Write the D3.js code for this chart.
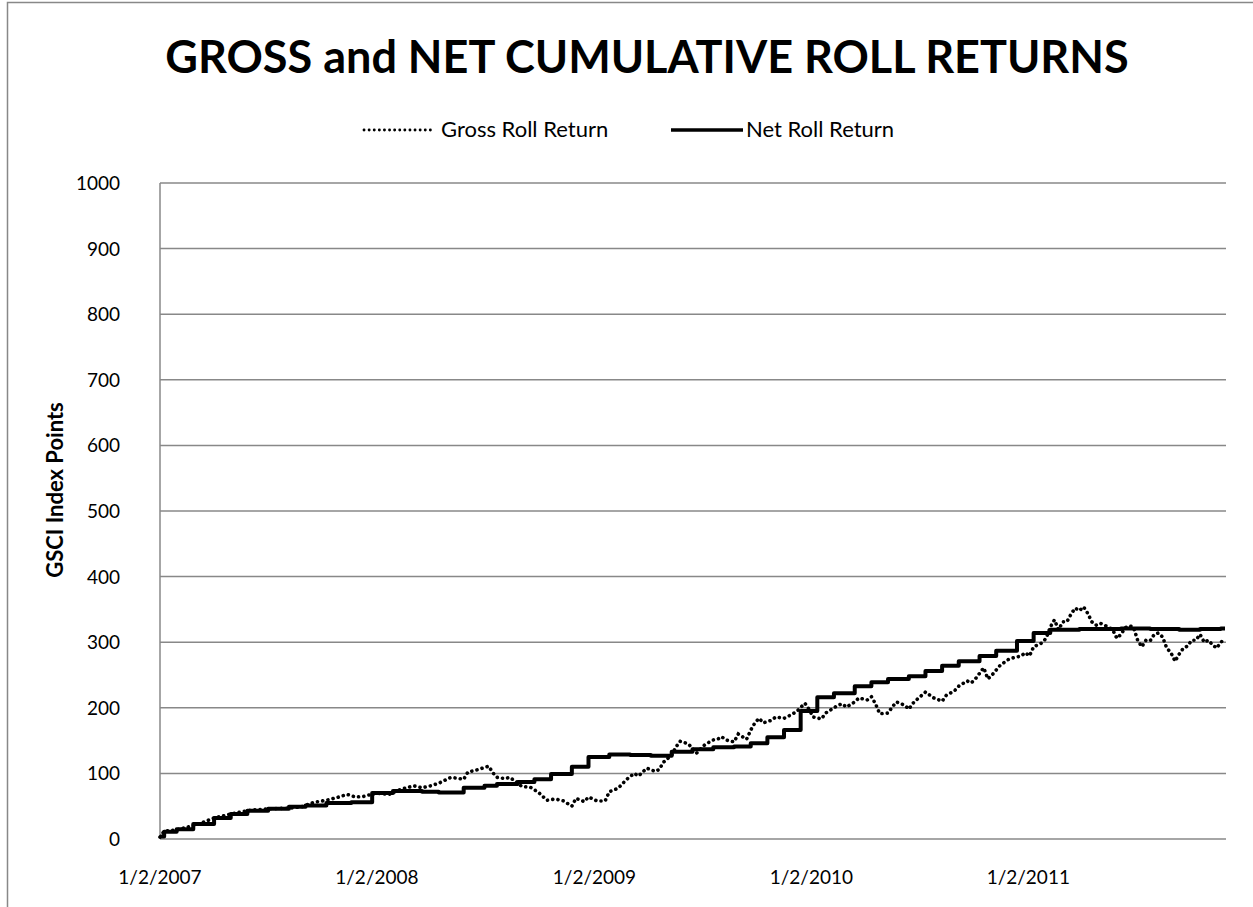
<!DOCTYPE html>
<html>
<head>
<meta charset="utf-8">
<script src="https://cdn.jsdelivr.net/npm/d3@7"></script>
<style>
  body { margin: 0; background: #fff; }
  text { font-family: Lato, "Open Sans", sans-serif; fill: #000; }
</style>
</head>
<body>
<svg id="chart" width="1253" height="907"></svg>
<script>
// weekly observations, counted in weeks from 1/2/2007
const grossWeeks = [0, 1, 4, 9, 13, 17, 20, 22, 26, 31, 34, 37, 39, 40, 43, 45, 47, 49, 52, 55,
  58, 61, 63, 65, 67, 70, 73, 74, 76, 79, 80, 81, 83, 84, 85, 87, 89, 91, 93, 95,
  97, 99, 100, 102, 103, 105, 107, 108, 110, 111, 112, 114, 115, 117, 119, 120, 121, 123, 124, 125,
  127, 129, 131, 133, 134, 135, 136, 138, 139, 141, 142, 143, 144, 145, 147, 148, 150, 151, 153, 155,
  156, 157, 159, 160, 162, 163, 164, 165, 167, 168, 170, 171, 172, 173, 175, 176, 177, 179, 180, 181,
  182, 184, 186, 188, 189, 191, 192, 194, 195, 196, 198, 199, 200, 202, 204, 205, 207, 208, 209, 210,
  212, 213, 214, 215, 216, 217, 218, 219, 220, 221, 222, 223, 224, 225, 226, 227, 228, 229, 230, 231,
  232, 233, 234, 235, 236, 237, 238, 239, 240, 241, 242, 243, 244, 245, 246, 247, 248, 249, 250, 251,
  252, 253, 254, 255, 256];
const grossValues = [3, 12, 14, 22, 32, 38, 42, 44, 46, 47, 49, 56, 58, 59, 64, 68, 64, 65, 70, 68,
  76, 81, 78, 81, 85, 94, 91, 102, 105, 111, 101, 94, 92, 94, 90, 80, 79, 71, 59, 61,
  58, 50, 62, 57, 64, 58, 58, 72, 77, 83, 90, 100, 96, 108, 103, 106, 117, 128, 140, 149,
  145, 131, 144, 151, 152, 156, 151, 148, 160, 152, 166, 177, 184, 177, 181, 186, 184, 187, 194, 207,
  198, 186, 183, 192, 200, 204, 206, 201, 209, 215, 212, 217, 206, 191, 192, 201, 209, 204, 198, 207,
  213, 224, 215, 210, 219, 226, 233, 241, 238, 244, 261, 244, 250, 265, 274, 276, 279, 284, 279, 293,
  299, 306, 323, 334, 319, 331, 331, 343, 352, 348, 354, 344, 331, 326, 329, 326, 323, 319, 306, 312,
  322, 325, 323, 303, 293, 303, 302, 312, 314, 308, 291, 284, 271, 282, 291, 294, 303, 303, 312, 300,
  303, 296, 291, 300, 305];

// net series moves in steps at each monthly roll
const netWeeks = [0, 1, 4, 8, 13, 17, 21, 26, 31, 35, 40, 46, 51, 56, 63, 67, 73, 78, 81, 86,
  90, 94, 99, 103, 108, 113, 118, 123, 128, 133, 138, 142, 146, 150, 154, 158, 162, 167, 171, 175,
  180, 184, 188, 192, 197, 201, 206, 210, 214, 221, 231, 238, 245, 250, 255, 256];
const netValues = [4, 11, 15, 23, 32, 38, 43, 46, 49, 51, 55, 56, 70, 73, 72, 71, 78, 81, 84, 87,
  91, 99, 110, 125, 129, 128, 127, 133, 137, 140, 141, 146, 155, 166, 195, 216, 222, 233, 239, 244,
  248, 256, 264, 271, 279, 287, 302, 314, 319, 320, 321, 320, 319, 320, 321, 321];

const yTicks = [0, 100, 200, 300, 400, 500, 600, 700, 800, 900, 1000];
const xTickLabels = ["1/2/2007", "1/2/2008", "1/2/2009", "1/2/2010", "1/2/2011"];

const start = new Date(2007, 0, 2);
const weekDate = w => d3.timeDay.offset(start, 7 * w);
const parseLabel = d3.timeParse("%m/%d/%Y");

const gross = grossWeeks.map((w, i) => ({date: weekDate(w), value: grossValues[i]}));
const net = netWeeks.map((w, i) => ({date: weekDate(w), value: netValues[i]}));

const svg = d3.select("#chart");

svg.append("rect")
  .attr("x", 7.5).attr("y", 2.5)
  .attr("width", 1300).attr("height", 1000)
  .attr("fill", "none").attr("stroke", "#888").attr("stroke-width", 1.5);

const x = d3.scaleTime()
  .domain([start, weekDate(256)])
  .range([160, 1225]);
const y = d3.scaleLinear()
  .domain([0, 1000])
  .range([839, 183]);

// gridlines
svg.append("g")
  .selectAll("line")
  .data(yTicks)
  .enter()
  .append("line")
  .attr("x1", 160).attr("x2", 1226)
  .attr("y1", d => y(d)).attr("y2", d => y(d))
  .attr("stroke", "#888").attr("stroke-width", 1.5);

svg.append("line")
  .attr("x1", 160).attr("x2", 160)
  .attr("y1", y(1000)).attr("y2", y(0))
  .attr("stroke", "#888").attr("stroke-width", 1.5);

// y labels
svg.append("g")
  .selectAll("text")
  .data(yTicks)
  .enter()
  .append("text")
  .attr("x", 120)
  .attr("y", d => y(d) + 7)
  .attr("text-anchor", "end")
  .attr("font-size", "19px")
  .text(d => d);

// x labels
svg.append("g")
  .selectAll("text")
  .data(xTickLabels)
  .enter()
  .append("text")
  .attr("x", d => x(parseLabel(d)))
  .attr("y", 884)
  .attr("text-anchor", "middle")
  .attr("font-size", "19px")
  .text(d => d);

svg.append("text")
  .attr("transform", "translate(63,490) rotate(-90)")
  .attr("text-anchor", "middle")
  .attr("font-size", "22px")
  .attr("font-weight", "bold")
  .text("GSCI Index Points");

svg.append("text")
  .attr("x", 647).attr("y", 73)
  .attr("text-anchor", "middle")
  .attr("font-size", "45px")
  .attr("font-weight", "bold")
  .text("GROSS and NET CUMULATIVE ROLL RETURNS");

const line = d3.line()
  .x(d => x(d.date))
  .y(d => y(d.value));

svg.append("path")
  .datum(net)
  .attr("fill", "none")
  .attr("stroke", "#000")
  .attr("stroke-width", 4)
  .attr("stroke-linejoin", "round")
  .attr("d", line.curve(d3.curveStepAfter));

svg.append("path")
  .datum(gross)
  .attr("fill", "none")
  .attr("stroke", "#000")
  .attr("stroke-width", 3.6)
  .attr("stroke-linecap", "round")
  .attr("stroke-dasharray", "0.1 5.2")
  .attr("d", d3.line().x(d => x(d.date)).y(d => y(d.value)));

// legend
const legend = svg.append("g");
legend.append("line")
  .attr("x1", 364).attr("x2", 433).attr("y1", 130).attr("y2", 130)
  .attr("stroke", "#000").attr("stroke-width", 2.8)
  .attr("stroke-linecap", "round").attr("stroke-dasharray", "0.1 5");
legend.append("text")
  .attr("x", 441).attr("y", 137)
  .attr("font-size", "22px")
  .text("Gross Roll Return");
legend.append("line")
  .attr("x1", 671).attr("x2", 743).attr("y1", 130).attr("y2", 130)
  .attr("stroke", "#000").attr("stroke-width", 3.5);
legend.append("text")
  .attr("x", 746).attr("y", 137)
  .attr("font-size", "22px")
  .text("Net Roll Return");
</script>
</body>
</html>
